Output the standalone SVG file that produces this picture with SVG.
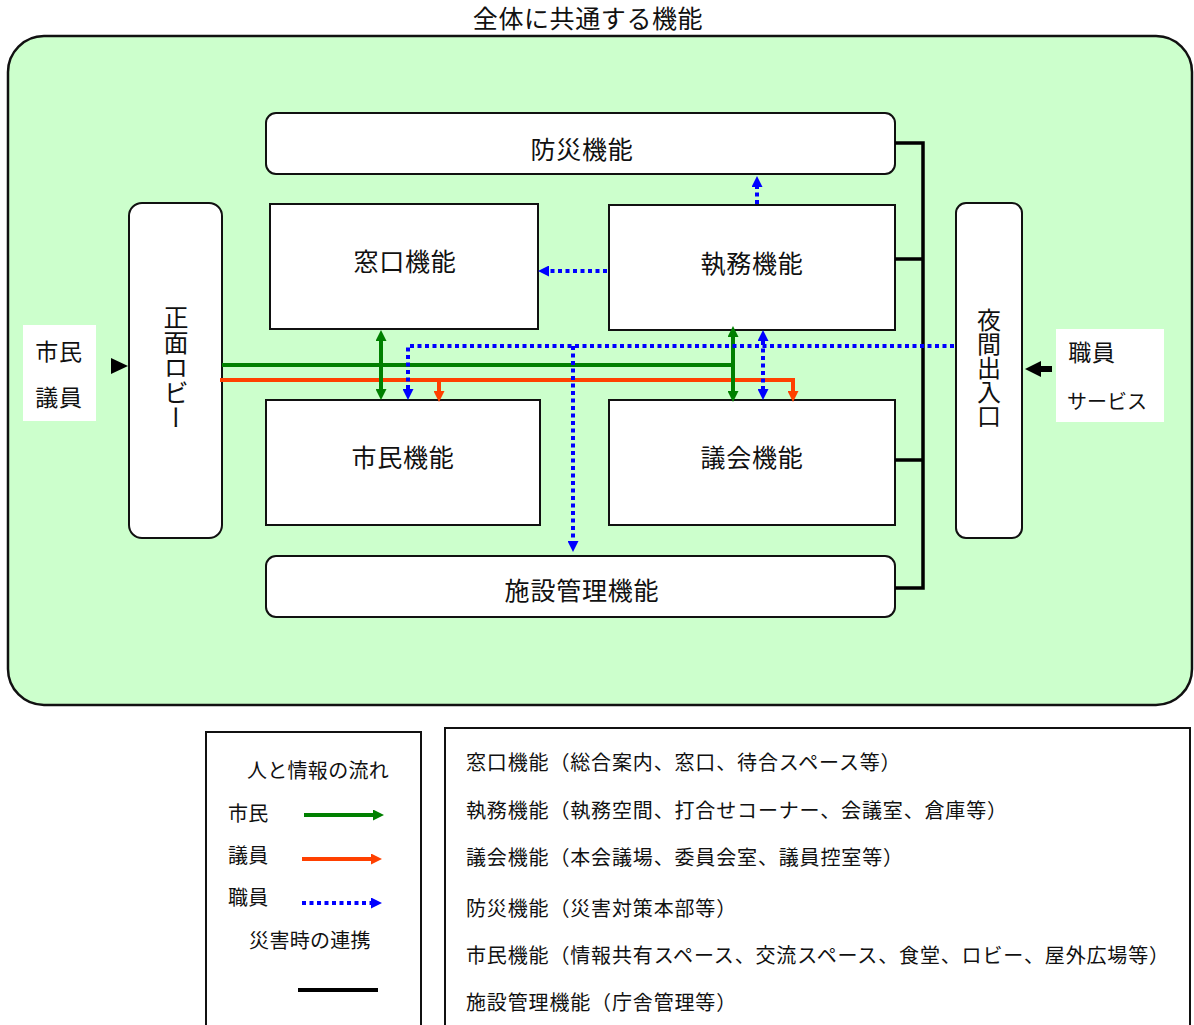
<svg xmlns="http://www.w3.org/2000/svg" width="1194" height="1025" viewBox="0 0 1194 1025">
<defs>
<style>
text{font-family:"Noto Sans CJK JP","Noto Sans",sans-serif;fill:#111;}
.box{fill:#fff;stroke:#111;stroke-width:2;}
.lbl{font-size:25px;letter-spacing:0.8px;text-anchor:middle;dominant-baseline:central;}
.leg{font-size:20px;letter-spacing:0.3px;dominant-baseline:central;}
.fn{letter-spacing:0.85px;}
.g{fill:none;stroke:#008000;stroke-width:4;}
.o{fill:none;stroke:#ff4000;stroke-width:4;}
.b{fill:none;stroke:#0000ff;stroke-width:4;stroke-dasharray:4 3.5;}
.k{fill:none;stroke:#000;stroke-width:3.5;}
</style>
<marker id="ag" markerUnits="userSpaceOnUse" markerWidth="11" markerHeight="11" refX="0" refY="5.5" orient="auto-start-reverse"><path d="M0,0 L11,5.5 L0,11 z" fill="#008000"/></marker>
<marker id="ao" markerUnits="userSpaceOnUse" markerWidth="11" markerHeight="11" refX="0" refY="5.5" orient="auto-start-reverse"><path d="M0,0 L11,5.5 L0,11 z" fill="#ff4000"/></marker>
<marker id="ab" markerUnits="userSpaceOnUse" markerWidth="11" markerHeight="11" refX="0" refY="5.5" orient="auto-start-reverse"><path d="M0,0 L11,5.5 L0,11 z" fill="#0000ff"/></marker>
</defs>
<rect width="1194" height="1025" fill="#fff"/>
<text x="588" y="17" style="font-size:25px;letter-spacing:0.6px;text-anchor:middle;dominant-baseline:central">全体に共通する機能</text>
<rect x="8" y="36" width="1184" height="669" rx="36" fill="#ccffcc" stroke="#111" stroke-width="2.5"/>

<g id="bousai"><rect class="box" x="266" y="113" width="629" height="61" rx="10"/><text class="lbl" x="582" y="148">防災機能</text></g>
<g id="madoguchi"><rect class="box" x="270" y="204" width="268" height="125"/><text class="lbl" x="405" y="260">窓口機能</text></g>
<g id="shitsumu"><rect class="box" x="609" y="205" width="286" height="125"/><text class="lbl" x="752" y="262">執務機能</text></g>
<g id="shimin"><rect class="box" x="266" y="400" width="274" height="125"/><text class="lbl" x="403" y="456">市民機能</text></g>
<g id="gikai"><rect class="box" x="609" y="400" width="286" height="125"/><text class="lbl" x="752" y="456">議会機能</text></g>
<g id="shisetsu"><rect class="box" x="266" y="556" width="629" height="61" rx="10"/><text class="lbl" x="582" y="589">施設管理機能</text></g>
<g id="lobby"><rect class="box" x="129" y="203" width="93" height="335" rx="13"/><text x="176" y="305" style="font-size:25px;writing-mode:vertical-rl;">正面ロビー</text></g>
<g id="yakan"><rect class="box" x="956" y="203" width="66" height="335" rx="10"/><text x="989" y="308" style="font-size:24px;writing-mode:vertical-rl;">夜間出入口</text></g>
<g id="citizens"><rect x="23" y="325" width="73" height="96" fill="#fff"/><text class="lbl" style="font-size:23px" x="59" y="350">市民</text><text class="lbl" style="font-size:23px" x="59" y="396">議員</text></g>
<g id="staff"><rect x="1056" y="329" width="108" height="93" fill="#fff"/><text class="lbl" style="font-size:23px" x="1092" y="351">職員</text><text class="lbl" style="font-size:20px;letter-spacing:0" x="1107" y="400">サービス</text></g>

<g id="connectors">
<polygon points="111,358 128,366 111,374" fill="#000"/>
<polygon points="1025,369 1041,361 1041,366 1052,366 1052,372 1041,372 1041,377" fill="#000"/>
<path class="k" d="M895,143 H923 V588 H895 M895,259 H923 M895,460 H923"/>
<path class="g" d="M222,365 H733"/>
<path class="o" d="M220,380 H793 V391" marker-end="url(#ao)"/>
<path class="o" d="M439,380 V391" marker-end="url(#ao)"/>
<path class="g" d="M381,341 V389" marker-start="url(#ag)" marker-end="url(#ag)"/>
<path class="g" d="M733,337 V391" marker-start="url(#ag)" marker-end="url(#ag)"/>
<path class="b" d="M408,389 V346 H956" marker-start="url(#ab)"/>
<path class="b" d="M573,346 V541" marker-end="url(#ab)"/>
<path class="b" d="M763,341 V389" marker-start="url(#ab)" marker-end="url(#ab)"/>
<path class="b" d="M607,271 H549" marker-end="url(#ab)"/>
<path class="b" d="M757,204 V187" marker-end="url(#ab)"/>
</g>

<g id="legend-flow">
<rect x="206" y="732" width="215" height="320" fill="#fff" stroke="#111" stroke-width="2"/>
<text class="leg" x="318" y="769" style="text-anchor:middle">人と情報の流れ</text>
<text class="leg" x="228" y="812">市民</text>
<path class="g" d="M304,815 H373" marker-end="url(#ag)"/>
<text class="leg" x="228" y="854">議員</text>
<path class="o" d="M302,859 H371" marker-end="url(#ao)"/>
<text class="leg" x="228" y="896">職員</text>
<path class="b" d="M302,903 H371" marker-end="url(#ab)"/>
<text class="leg" x="310" y="939" style="text-anchor:middle">災害時の連携</text>
<path d="M298,990 H378" stroke="#000" stroke-width="4"/>
</g>

<g id="legend-functions">
<rect x="445" y="728" width="745" height="320" fill="#fff" stroke="#111" stroke-width="2"/>
<text class="leg fn" x="466" y="761">窓口機能（総合案内、窓口、待合スペース等）</text>
<text class="leg fn" x="466" y="809">執務機能（執務空間、打合せコーナー、会議室、倉庫等）</text>
<text class="leg fn" x="466" y="856">議会機能（本会議場、委員会室、議員控室等）</text>
<text class="leg fn" x="466" y="907">防災機能（災害対策本部等）</text>
<text class="leg fn" x="466" y="954">市民機能（情報共有スペース、交流スペース、食堂、ロビー、屋外広場等）</text>
<text class="leg fn" x="466" y="1001">施設管理機能（庁舎管理等）</text>
</g>
</svg>
